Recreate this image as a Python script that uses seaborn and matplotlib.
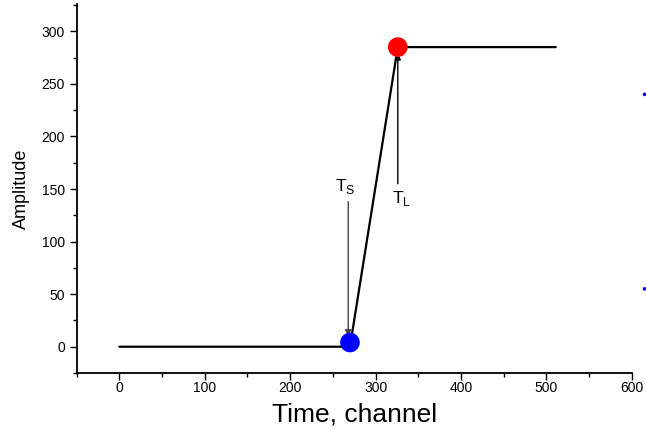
import matplotlib
matplotlib.use("Agg")
import matplotlib.pyplot as plt
import seaborn as sns
import pandas as pd

# Pulse profile: baseline, rise, plateau
time_ch = [0, 270, 326, 511]
amplitude = [0, 0, 285, 285]

# Start (T_S) and leading-edge (T_L) markers
start_time = [270]
start_amp = [4]
peak_time = [326]
peak_amp = [285]

# Side markers just beyond the axis range
edge_time = [615, 615]
edge_amp = [240, 55]

x_ticks = [0, 100, 200, 300, 400, 500, 600]
y_ticks = [0, 50, 100, 150, 200, 250, 300]

sns.set_style("ticks")
plt.rcParams["font.family"] = ["Liberation Sans", "DejaVu Sans"]
plt.rcParams["text.color"] = "black"
plt.rcParams["axes.labelcolor"] = "black"
plt.rcParams["xtick.color"] = "black"
plt.rcParams["ytick.color"] = "black"

fig = plt.figure(figsize=(6.46, 4.38), dpi=100)
ax = fig.add_axes([0.1187, 0.1484, 0.978 - 0.1187, 0.9909 - 0.1484])

df = pd.DataFrame({"t": time_ch, "a": amplitude})
sns.lineplot(data=df, x="t", y="a", ax=ax, color="black", linewidth=1.6,
             sort=False, estimator=None)

sns.scatterplot(x=start_time, y=start_amp, ax=ax, color="#0000ff", s=200,
                edgecolor="none", zorder=5)
sns.scatterplot(x=peak_time, y=peak_amp, ax=ax, color="#ff0000", s=200,
                edgecolor="none", zorder=5)
sns.scatterplot(x=edge_time, y=edge_amp, ax=ax, color="#0000ff", s=7,
                edgecolor="none", marker="o", clip_on=False, zorder=5)

# T_S: arrow pointing down at the start marker
ax.annotate("", xy=(start_time[0] - 2, start_amp[0] + 6),
            xytext=(start_time[0] - 2, 138),
            arrowprops=dict(arrowstyle="-|>", color="#444444", lw=1.0,
                            mutation_scale=9, shrinkA=0, shrinkB=0))
ax.text(start_time[0] - 6, 143, r"T$_{\mathregular{S}}$", fontsize=12.5,
        ha="center", va="bottom")

# T_L: arrow pointing up at the peak marker
ax.annotate("", xy=(peak_time[0], peak_amp[0] - 6),
            xytext=(peak_time[0], 155),
            arrowprops=dict(arrowstyle="-|>", color="black", lw=1.0,
                            mutation_scale=9, shrinkA=0, shrinkB=0))
ax.text(peak_time[0] + 4, 150, r"T$_{\mathregular{L}}$", fontsize=12.5,
        ha="center", va="top")

ax.set_xlim(-50, 600)
ax.set_ylim(-25, 326)
ax.set_xticks(x_ticks)
ax.set_yticks(y_ticks)
ax.set_xticks(range(-50, 601, 50), minor=True)
ax.set_yticks(range(-25, 326, 25), minor=True)
ax.tick_params(axis="both", which="major", length=5, width=1, labelsize=10,
               direction="out", color="black", labelcolor="black")
ax.tick_params(axis="x", which="major", pad=1)
ax.tick_params(axis="both", which="minor", length=3, width=1,
               direction="out", color="black")

ax.set_xlabel("Time, channel", fontsize=19, labelpad=5, color="black")
ax.set_ylabel("Amplitude", fontsize=13, labelpad=8, color="black")

for side in ("left", "bottom"):
    ax.spines[side].set_linewidth(1.3)
    ax.spines[side].set_color("black")
sns.despine(ax=ax)

fig.savefig("out.png", dpi=100)
